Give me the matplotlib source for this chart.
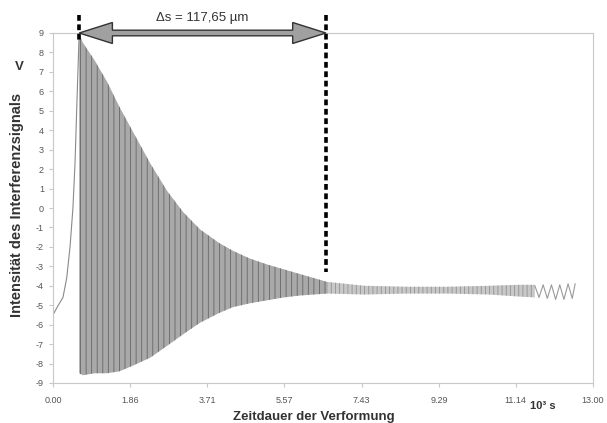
import matplotlib
matplotlib.use("Agg")
import matplotlib.pyplot as plt
import matplotlib.transforms as mtransforms
from matplotlib.patches import Polygon

plt.rcParams['font.family'] = ['Liberation Sans', 'DejaVu Sans']
plt.rcParams['axes.unicode_minus'] = False
plt.rcParams['hatch.linewidth'] = 0.6

# ---- data ----
# initial rise before interference starts
rise_t = [0.00, 0.10, 0.24, 0.33, 0.41, 0.48, 0.53, 0.58, 0.63]
rise_v = [-5.5, -5.1, -4.6, -3.6, -2.0, 0.0, 2.3, 5.7, 9.0]

# envelope of the dense interference oscillation
env_t = [0.63, 0.72, 1.00, 1.30, 1.60, 1.93, 2.34, 2.74, 3.13, 3.54, 4.00, 4.33, 4.74, 5.15, 5.55, 5.95, 6.60]
env_upper = [9.0, 8.5, 7.6, 6.5, 5.2, 3.9, 2.3, 0.9, -0.2, -1.1, -1.8, -2.2, -2.6, -2.9, -3.15, -3.4, -3.8]
env_lower = [-8.5, -8.6, -8.5, -8.5, -8.4, -8.1, -7.7, -7.1, -6.5, -5.9, -5.4, -5.1, -4.9, -4.75, -4.6, -4.5, -4.4]

# weak residual oscillation band
band_t = [6.60, 7.50, 8.50, 9.50, 10.50, 11.20, 11.60]
band_upper = [-3.8, -4.0, -4.05, -4.05, -4.0, -3.95, -3.95]
band_lower = [-4.4, -4.45, -4.4, -4.4, -4.45, -4.55, -4.6]

# slow oscillation at the end
tail_t = [11.60, 11.70, 11.80, 11.90, 12.00, 12.10, 12.20, 12.30, 12.40, 12.50, 12.57]
tail_v = [-4.0, -4.6, -3.95, -4.65, -3.95, -4.7, -3.95, -4.7, -3.9, -4.65, -3.9]

# Delta s markers
delta_start = 0.63
delta_end = 6.57
delta_label = "\u0394s = 117,65 \u00b5m"

x_ticks = [0.00, 1.86, 3.71, 5.57, 7.43, 9.29, 11.14, 13.00]
x_tick_labels = ["0.00", "1.86", "3.71", "5.57", "7.43", "9.29", "11.14", "13.00"]
y_ticks = list(range(-9, 10))

# ---- figure ----
fig = plt.figure(figsize=(6.07, 4.23), dpi=100)
ax = fig.add_axes([53/607, 1-383/423, 540/607, 350/423])
ax.set_xlim(0, 13)
ax.set_ylim(-9, 9)

ax.fill_between(env_t, env_lower, env_upper, facecolor='#a9a9a9', edgecolor='#666666',
                hatch='|||', linewidth=0)
ax.fill_between(band_t, band_lower, band_upper, facecolor='#c8c8c8', edgecolor='#929292',
                hatch='||||', linewidth=0)
ax.plot(rise_t, rise_v, color='#8a8a8a', lw=0.8)
ax.plot(tail_t, tail_v, color='#9a9a9a', lw=0.8)

for s in ax.spines.values():
    s.set_color('#c8c8c8')
    s.set_linewidth(0.8)

ax.set_xticks(x_ticks)
ax.set_xticklabels(x_tick_labels)
ax.set_yticks(y_ticks)
ax.tick_params(axis='both', colors='#c8c8c8', labelcolor='#555555', labelsize=6.5,
               length=3, width=0.8)
ax.tick_params(axis='x', pad=6)

# dashed markers
ax.plot([delta_start, delta_start], [9.95, 8.6], color='black', lw=2.6,
        dashes=(1.6, 1.0), clip_on=False, zorder=5)
ax.plot([delta_end, delta_end], [9.95, -3.3], color='black', lw=2.6,
        dashes=(1.6, 1.0), clip_on=False, zorder=5)

# double arrow (x in data, y in pixels of figure)
trans = mtransforms.blended_transform_factory(ax.transData, fig.transFigure)
yc = 1 - 33/423
sh = 2.8/423
hh = 10.5/423
hl = 0.8
pts = [(delta_start, yc), (delta_start + hl, yc + hh), (delta_start + hl, yc + sh),
       (delta_end - hl, yc + sh), (delta_end - hl, yc + hh), (delta_end, yc),
       (delta_end - hl, yc - hh), (delta_end - hl, yc - sh), (delta_start + hl, yc - sh),
       (delta_start + hl, yc - hh)]
ax.add_patch(Polygon(pts, closed=True, transform=trans, facecolor='#a0a0a0',
                     edgecolor='#333333', lw=1.0, clip_on=False, zorder=6))
ax.text((delta_start + delta_end) / 2, 1 - 18/423, delta_label, transform=trans,
        ha='center', va='center', fontsize=9.5, color='#333333')

# labels
fig.text(17/607, 1 - 205/423, "Intensität des Interferenzsignals", rotation=90,
         ha='center', va='center', fontsize=10.5, fontweight='bold', color='#333333')
fig.text(19/607, 1 - 67/423, "V", ha='center', va='center', fontsize=9.5,
         fontweight='bold', color='#333333')
fig.text(314/607, 1 - 417/423, "Zeitdauer der Verformung", ha='center', va='center',
         fontsize=9.5, fontweight='bold', color='#333333')
fig.text(543/607, 1 - 406/423, "10³ s", ha='center', va='center', fontsize=8,
         fontweight='bold', color='#333333')

fig.savefig("out.png", dpi=100)
